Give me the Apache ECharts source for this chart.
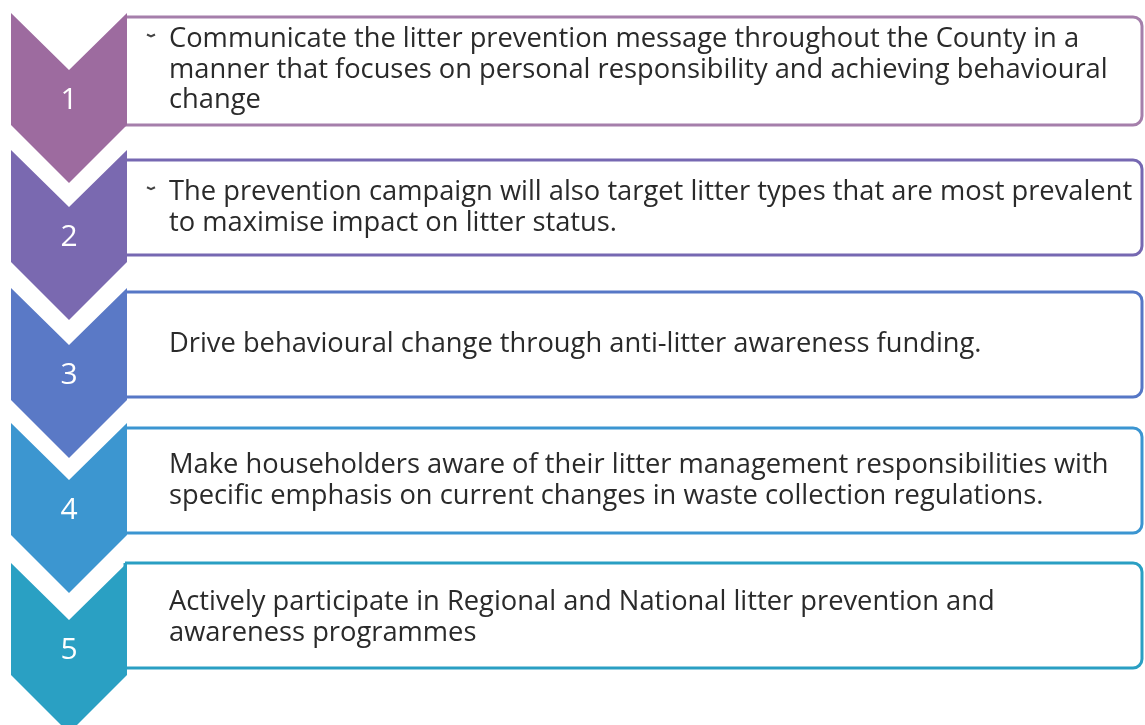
<!DOCTYPE html>
<html>
<head>
<meta charset="utf-8">
<script src="https://cdn.jsdelivr.net/npm/echarts@6/dist/echarts.min.js"></script>
<style>
html,body{margin:0;padding:0;background:#fff;}
#chart{width:1145px;height:725px;}
</style>
</head>
<body>
<div id="chart"></div>
<script>
// ---- data ----
const steps = ['1', '2', '3', '4', '5'];
const hasBullet = [true, true, false, false, false];
const stepLines = [
  ['Communicate the litter prevention message throughout the County in a',
   'manner that focuses on personal responsibility and achieving behavioural',
   'change'],
  ['The prevention campaign will also target litter types that are most prevalent',
   'to maximise impact on litter status.'],
  ['Drive behavioural change through anti-litter awareness funding.'],
  ['Make householders aware of their litter management responsibilities with',
   'specific emphasis on current changes in waste collection regulations.'],
  ['Actively participate in Regional and National litter prevention and',
   'awareness programmes']
];

// ---- layout / style (not data) ----
const chevColors = ['#9d6b9f', '#7a69b0', '#5a79c6', '#3c96d0', '#2aa0c3'];
const boxColors  = ['#a57fab', '#7668b2', '#5677c6', '#3b95d1', '#2a9fc3'];
const chevTop = [13, 150, 288, 423, 563];
const boxTop = [17, 160, 292, 428, 563];
const boxBottom = [125, 255, 397, 533, 668];
const textShift = [-1, 0, 0, 0, 2];
const FONT = '"Open Sans", "Noto Sans", sans-serif';

const chart = echarts.init(document.getElementById('chart'));

function renderItem(params, api) {
  const i = params.dataIndex;
  const t = chevTop[i];
  const P = (x, y) => api.coord([x, y]);
  const pts = [P(11, t), P(69, t + 57), P(127, t), P(127, t + 112), P(69, t + 170), P(11, t + 112)];
  const b0 = P(125, boxTop[i]);
  const b1 = P(1142, boxBottom[i]);
  const children = [];
  children.push({
    type: 'rect',
    shape: { x: b0[0], y: b0[1], width: b1[0] - b0[0], height: b1[1] - b0[1], r: [0, 9, 9, 0] },
    style: { fill: '#fff', stroke: boxColors[i], lineWidth: 3 }
  });
  children.push({
    type: 'polygon',
    shape: { points: pts },
    style: { fill: chevColors[i] }
  });
  const nc = P(69, t + 87);
  children.push({
    type: 'text',
    style: {
      text: api.value(1), x: nc[0], y: nc[1], align: 'center', verticalAlign: 'middle',
      fill: '#ffffff', fontSize: 30, fontFamily: FONT
    }
  });
  const lines = stepLines[i];
  const lh = 30.5;
  const midY = (boxTop[i] + boxBottom[i]) / 2 + textShift[i];
  const startY = midY - (lines.length - 1) * lh / 2;
  lines.forEach((ln, k) => {
    const p = P(169, startY + k * lh);
    children.push({
      type: 'text',
      style: {
        text: ln, x: p[0], y: p[1], align: 'left', verticalAlign: 'middle',
        fill: '#2a2a2a', fontSize: 27.3, fontFamily: FONT
      }
    });
  });
  if (hasBullet[i]) {
    const a = P(147, startY - 5);
    const c = P(151, startY - 3);
    const d = P(155, startY - 5);
    children.push({
      type: 'polyline',
      shape: { points: [a, c, d] },
      style: { stroke: '#444', lineWidth: 2, fill: null }
    });
  }
  return { type: 'group', children: children };
}

chart.setOption({
  backgroundColor: '#ffffff',
  animation: false,
  grid: { left: 0, right: 0, top: 0, bottom: 0 },
  xAxis: { type: 'value', min: 0, max: 1145, show: false },
  yAxis: { type: 'value', min: 0, max: 725, inverse: true, show: false },
  series: [{
    type: 'custom',
    renderItem: renderItem,
    coordinateSystem: 'cartesian2d',
    clip: false,
    data: steps.map((s, i) => [i, s])
  }]
});
</script>
</body>
</html>
